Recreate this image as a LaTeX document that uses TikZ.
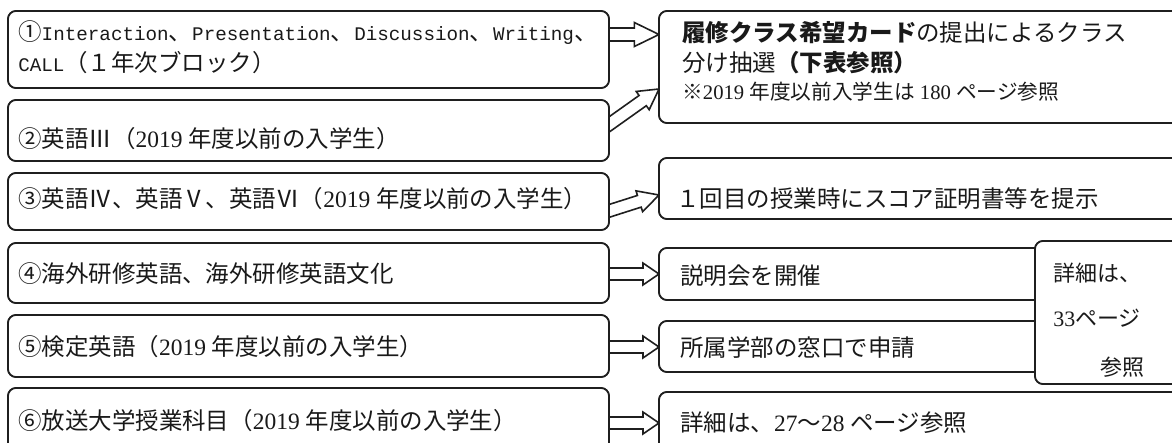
\documentclass[tikz,border=0pt]{standalone}
\usepackage{fontspec}
\setmainfont{Liberation Serif}
\newfontfamily\jp{Noto Sans CJK JP}
\newfontfamily\mono{Liberation Mono}[Scale=0.82]
\usetikzlibrary{calc}
\newcommand{\J}[1]{{\jp #1}}
\newcommand{\M}[1]{{\mono #1}}
\tikzset{
  boxst/.style={draw=black!88, line width=1.3pt, rounded corners=6pt, fill=white, inner sep=0pt, outer sep=0pt},
  txt/.style={anchor=west, inner sep=0pt, text=black!90, font=\fontsize{17.6}{20}\selectfont},
  stxt/.style={anchor=west, inner sep=0pt, text=black!90, font=\fontsize{15.5}{18}\selectfont},
  dtxt/.style={anchor=west, inner sep=0pt, text=black!90, font=\fontsize{16.5}{19}\selectfont},
  arrst/.style={draw=black!88, line width=1.2pt, fill=white, line join=miter},
}
% box node: name, x1, y1, x2, y2 (pixels)
\newcommand{\bx}[5]{\node[boxst, minimum width={(#4-#2)*0.75pt}, minimum height={(#5-#3)*0.75pt}] (#1) at ({(#2+#4)/2},{(#3+#5)/2}) {};}
% block arrow: tail, tip, shaft half width, head half width, head length (pt)
\newcommand{\barrow}[5]{%
  \coordinate (bab) at ($(#2)!#5!(#1)$);
  \filldraw[arrst] ($(#1)!#3!90:(#2)$) -- ($(bab)!#3!90:(#2)$) -- ($(bab)!#4!90:(#2)$) -- (#2)
    -- ($(bab)!#4!-90:(#2)$) -- ($(bab)!#3!-90:(#2)$) -- ($(#1)!#3!-90:(#2)$) -- cycle;}
\begin{document}
\begin{tikzpicture}[x=0.75pt, y=-0.75pt]
\useasboundingbox (0,0) rectangle (1172,443);
\clip (0,0) rectangle (1172,443);
\fill[white] (0,0) rectangle (1172,443);
% --- left boxes (placed first for arrow geometry, drawn again on top after arrows) ---
\bx{b1}{8}{11}{609}{88}
\bx{b2}{8}{100}{609}{161}
\bx{b3}{8}{173}{609}{230}
\bx{b4}{8}{243}{609}{303}
\bx{b5}{8}{315}{609}{377}
\bx{b6}{8}{388}{609}{452}
% --- right boxes ---
\bx{r1}{659}{11}{1185}{123}
\bx{r3}{659}{158}{1185}{219}
\bx{r4}{659}{248}{1045}{300}
\bx{r5}{659}{321}{1045}{372}
\bx{r6}{659}{392}{1185}{455}
\bx{d}{1035}{241}{1185}{384}
% --- arrows ---
\coordinate (t1) at ($(b1.east)+(-8,-15)$);
\coordinate (h1) at (t1 -| r1.west);
\barrow{t1}{h1}{4.9pt}{9pt}{18.5pt}
\coordinate (t2) at ($(b2.east)+(-7,-1)$);
\coordinate (h2) at ($(r1.west)+(0,22)$);
\barrow{t2}{h2}{4.7pt}{8.4pt}{15pt}
\coordinate (t3) at ($(b3.east)+(-8,12)$);
\coordinate (h3) at ($(r3.west)+(0,6.5)$);
\barrow{t3}{h3}{4.6pt}{8.2pt}{15.5pt}
\coordinate (t4) at ($(b4.east)+(-8,1)$);
\coordinate (h4) at (t4 -| r4.west);
\barrow{t4}{h4}{4.5pt}{8.2pt}{12pt}
\coordinate (t5) at ($(b5.east)+(-8,1)$);
\coordinate (h5) at (t5 -| r5.west);
\barrow{t5}{h5}{4.5pt}{8.2pt}{12pt}
\coordinate (t6) at ($(b6.west |- 0,423)+(593,0)$);
\coordinate (h6) at (t6 -| r6.west);
\barrow{t6}{h6}{4.5pt}{8.2pt}{12pt}
% redraw boxes on top of arrow tails
\bx{b1}{8}{11}{609}{88}
\bx{b2}{8}{100}{609}{161}
\bx{b3}{8}{173}{609}{230}
\bx{b4}{8}{243}{609}{303}
\bx{b5}{8}{315}{609}{377}
\bx{b6}{8}{388}{609}{452}
\bx{r1}{659}{11}{1185}{123}
\bx{r3}{659}{158}{1185}{219}
\bx{r4}{659}{248}{1045}{300}
\bx{r5}{659}{321}{1045}{372}
\bx{r6}{659}{392}{1185}{455}
\bx{d}{1035}{241}{1185}{384}
% --- texts ---
\node[txt] (l1a) at (18,33) {\J{①}\M{Interaction}\J{、}\M{Presentation}\J{、}\M{Discussion}\J{、}\M{Writing}\J{、}};
\node[txt] (l1b) at (18,63) {\M{CALL}\J{（１年次ブロック）}};
\node[txt] (l2) at (18,139) {\J{②英語Ⅲ（}2019 \J{年度以前の入学生）}};
\node[txt] (l3) at (18,199) {\J{③英語Ⅳ、英語Ⅴ、英語Ⅵ（}2019 \J{年度以前の入学生）}};
\node[txt] (l4) at (18,274) {\J{④海外研修英語、海外研修英語文化}};
\node[txt] (l5) at (18,347) {\J{⑤検定英語（}2019 \J{年度以前の入学生）}};
\node[txt] (l6) at (18,421) {\J{⑥放送大学授業科目（}2019 \J{年度以前の入学生）}};
\node[txt] (q1a) at (682,33) {\J{\bfseries 履修クラス希望カード}\J{の提出によるクラス}};
\node[txt] (q1b) at (682,63) {\J{分け抽選}\J{\bfseries （下表参照）}};
\node[stxt] (q1c) at (682,92) {\J{※}2019 \J{年度以前入学生は} 180 \J{ページ参照}};
\node[txt] (q3) at (676,199) {\J{１回目の授業時にスコア証明書等を提示}};
\node[txt] (q4) at (680,276) {\J{説明会を開催}};
\node[txt] (q5) at (680,348) {\J{所属学部の窓口で申請}};
\node[txt] (q6) at (680,423) {\J{詳細は、}27\J{～}28 \J{ページ参照}};
\node[dtxt] (d1) at (1053,273) {\J{詳細は、}};
\node[dtxt] (d2) at (1053,318) {33\J{ページ}};
\node[dtxt] (d3) at (1100,367) {\J{参照}};
\end{tikzpicture}
\end{document}
